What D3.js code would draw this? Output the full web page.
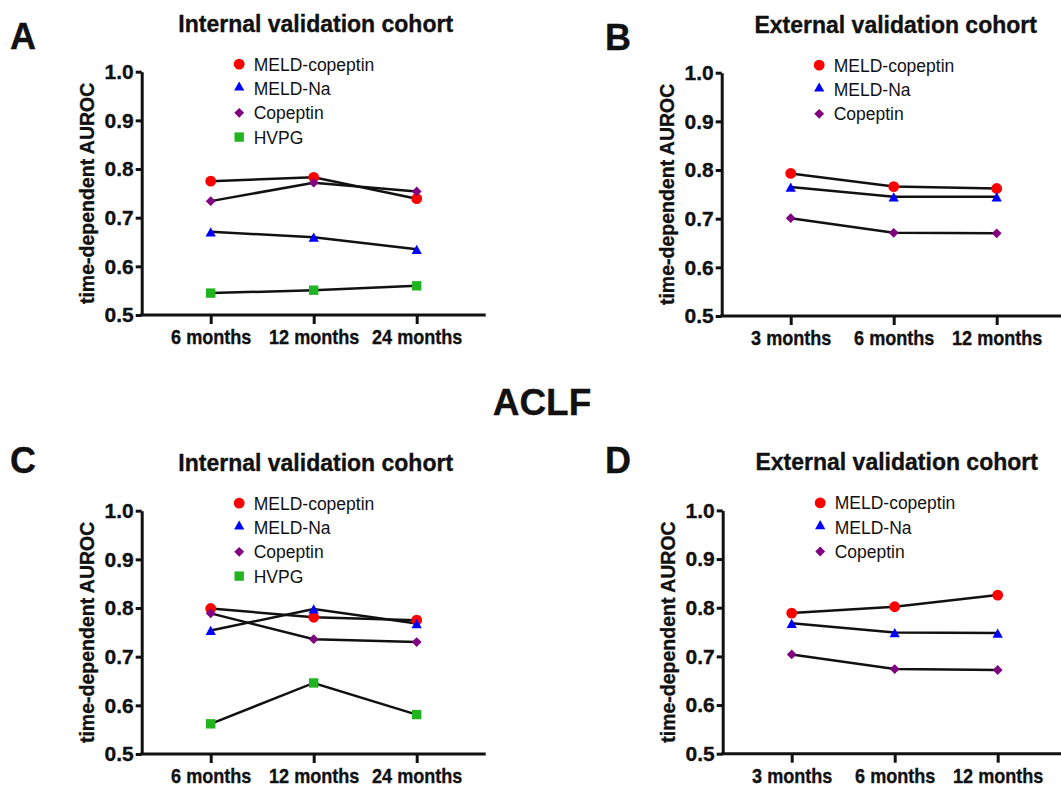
<!DOCTYPE html>
<html>
<head>
<meta charset="utf-8">
<script src="https://cdn.jsdelivr.net/npm/d3@7"></script>
<style>
  body { margin: 0; background: #fff; }
  svg { display: block; font-family: "Liberation Sans", Arial, Helvetica, sans-serif; }
  .heavy { stroke: #111; stroke-width: 0.35px; }
</style>
</head>
<body>
<svg id="chart" width="1061" height="787"></svg>
<script>
// categories
var seriesNames = ['MELD-copeptin', 'MELD-Na', 'Copeptin', 'HVPG'];
var internalMonths = ['6 months', '12 months', '24 months'];
var externalMonths = ['3 months', '6 months', '12 months'];
var yTicks = [0.5, 0.6, 0.7, 0.8, 0.9, 1.0];

// A: internal validation cohort
var meldCopeptinA = [0.775, 0.783, 0.739];
var meldNaA = [0.671, 0.660, 0.635];
var copeptinA = [0.734, 0.772, 0.754];
var hvpgA = [0.545, 0.551, 0.560];

// B: external validation cohort
var meldCopeptinB = [0.793, 0.766, 0.762];
var meldNaB = [0.765, 0.745, 0.745];
var copeptinB = [0.701, 0.671, 0.670];

// C: ACLF internal validation cohort
var meldCopeptinC = [0.799, 0.781, 0.775];
var meldNaC = [0.754, 0.798, 0.768];
var copeptinC = [0.789, 0.736, 0.730];
var hvpgC = [0.562, 0.646, 0.581];

// D: ACLF external validation cohort
var meldCopeptinD = [0.789, 0.802, 0.826];
var meldNaD = [0.768, 0.749, 0.748];
var copeptinD = [0.704, 0.674, 0.672];

var colors = {'MELD-copeptin': '#ff0000', 'MELD-Na': '#0000ff', 'Copeptin': '#800080', 'HVPG': '#20b420'};

// triangle centred on its bounding box
var triangle = {
  draw: function(ctx, size) {
    var w = Math.sqrt(size * 2.2), h = w * 0.9;
    ctx.moveTo(0, -h / 2);
    ctx.lineTo(w / 2, h / 2);
    ctx.lineTo(-w / 2, h / 2);
    ctx.closePath();
  }
};
var shapes = {
  'MELD-copeptin': {type: d3.symbolCircle, size: 92, rot: 0},
  'MELD-Na': {type: triangle, size: 48, rot: 0},
  'Copeptin': {type: d3.symbolSquare, size: 48, rot: 45},
  'HVPG': {type: d3.symbolSquare, size: 88, rot: 0}
};

var svg = d3.select('#chart');
var font = '"Liberation Sans", Arial, Helvetica, sans-serif';

function marker(sel, name, x, y) {
  var s = shapes[name];
  sel.append('path')
    .attr('d', d3.symbol().type(s.type).size(s.size)())
    .attr('transform', 'translate(' + x + ',' + y + ') rotate(' + s.rot + ')')
    .attr('fill', colors[name]);
}

function drawPanel(opt) {
  var x0 = opt.left, yTop = opt.top, yBottom = opt.top + 243.3;
  var g = svg.append('g');

  var x = d3.scalePoint().domain(opt.months).range([x0, x0 + 344]).padding(0.67);
  var y = d3.scaleLinear().domain([0.5, 1.0]).range([yBottom, yTop]);

  // letter and title
  svg.append('text').attr('class', 'heavy').attr('x', opt.letterX).attr('y', opt.letterY)
    .attr('font-size', 36).attr('font-weight', 'bold').attr('fill', '#111')
    .text(opt.letter);
  g.append('text').attr('class', 'heavy').attr('x', x0 + 174).attr('y', yTop - 40)
    .attr('text-anchor', 'middle').attr('font-size', 23).attr('font-weight', 'bold')
    .attr('fill', '#111').text(opt.title);

  // axes
  var yAxis = g.append('g').attr('transform', 'translate(' + x0 + ',0)')
    .call(d3.axisLeft(y).tickValues(yTicks).tickFormat(d3.format('.1f'))
      .tickSize(6).tickSizeOuter(0).tickPadding(2));
  var xAxis = g.append('g').attr('transform', 'translate(0,' + yBottom + ')')
    .call(d3.axisBottom(x).tickSize(9).tickSizeOuter(0).tickPadding(5));
  xAxis.select('.domain').attr('d', 'M' + (x0 - 1.5) + ',0H' + (x0 + 344));

  [yAxis, xAxis].forEach(function(a) {
    a.selectAll('.domain, line').attr('stroke', '#111').attr('stroke-width', 3);
    a.selectAll('text').attr('class', 'heavy').attr('font-family', font)
      .attr('font-weight', 'bold').attr('fill', '#111');
  });
  yAxis.selectAll('text').attr('font-size', 21);
  xAxis.selectAll('text').attr('font-size', 21)
    .attr('textLength', function(d) { return this.getComputedTextLength() * 0.86; })
    .attr('lengthAdjust', 'spacingAndGlyphs');

  g.append('text').attr('class', 'heavy')
    .attr('transform', 'translate(' + (x0 - 55) + ',' + ((yTop + yBottom) / 2) + ') rotate(-90)')
    .attr('text-anchor', 'middle').attr('dy', '0.35em')
    .attr('font-size', 19.5).attr('font-weight', 'bold').attr('fill', '#111')
    .text('time-dependent AUROC');

  // lines
  var line = d3.line()
    .x(function(d, i) { return x(opt.months[i]); })
    .y(function(d) { return y(d); });
  g.selectAll('path.series').data(opt.series).enter()
    .append('path').attr('class', 'series')
    .attr('d', function(d) { return line(d.values); })
    .attr('fill', 'none').attr('stroke', '#111').attr('stroke-width', 2.5);

  // markers
  opt.series.forEach(function(s) {
    s.values.forEach(function(v, i) {
      marker(g, s.name, x(opt.months[i]), y(v));
    });
  });

  // legend
  opt.series.forEach(function(s, i) {
    var by = yTop - 1 + i * 24.3;
    marker(g, s.name, x0 + 97.5, by - (s.name === 'MELD-Na' ? 9 : 6.5));
    g.append('text').attr('x', x0 + 112).attr('y', by)
      .attr('font-size', 17.5).attr('fill', '#111').text(s.name);
  });
}

drawPanel({
  letter: 'A', letterX: 10, letterY: 49, left: 141.7, top: 71.7,
  title: 'Internal validation cohort', months: internalMonths,
  series: [
    {name: seriesNames[0], values: meldCopeptinA},
    {name: seriesNames[1], values: meldNaA},
    {name: seriesNames[2], values: copeptinA},
    {name: seriesNames[3], values: hvpgA}
  ]
});
drawPanel({
  letter: 'B', letterX: 605, letterY: 50, left: 721.7, top: 72.7,
  title: 'External validation cohort', months: externalMonths,
  series: [
    {name: seriesNames[0], values: meldCopeptinB},
    {name: seriesNames[1], values: meldNaB},
    {name: seriesNames[2], values: copeptinB}
  ]
});
drawPanel({
  letter: 'C', letterX: 10, letterY: 473, left: 141.7, top: 510.7,
  title: 'Internal validation cohort', months: internalMonths,
  series: [
    {name: seriesNames[0], values: meldCopeptinC},
    {name: seriesNames[1], values: meldNaC},
    {name: seriesNames[2], values: copeptinC},
    {name: seriesNames[3], values: hvpgC}
  ]
});
drawPanel({
  letter: 'D', letterX: 605, letterY: 473, left: 722.7, top: 510.4,
  title: 'External validation cohort', months: externalMonths,
  series: [
    {name: seriesNames[0], values: meldCopeptinD},
    {name: seriesNames[1], values: meldNaD},
    {name: seriesNames[2], values: copeptinD}
  ]
});

svg.append('text').attr('class', 'heavy').attr('x', 542).attr('y', 415)
  .attr('text-anchor', 'middle')
  .attr('font-size', 37).attr('font-weight', 'bold').attr('fill', '#111')
  .text('ACLF');
</script>
</body>
</html>
